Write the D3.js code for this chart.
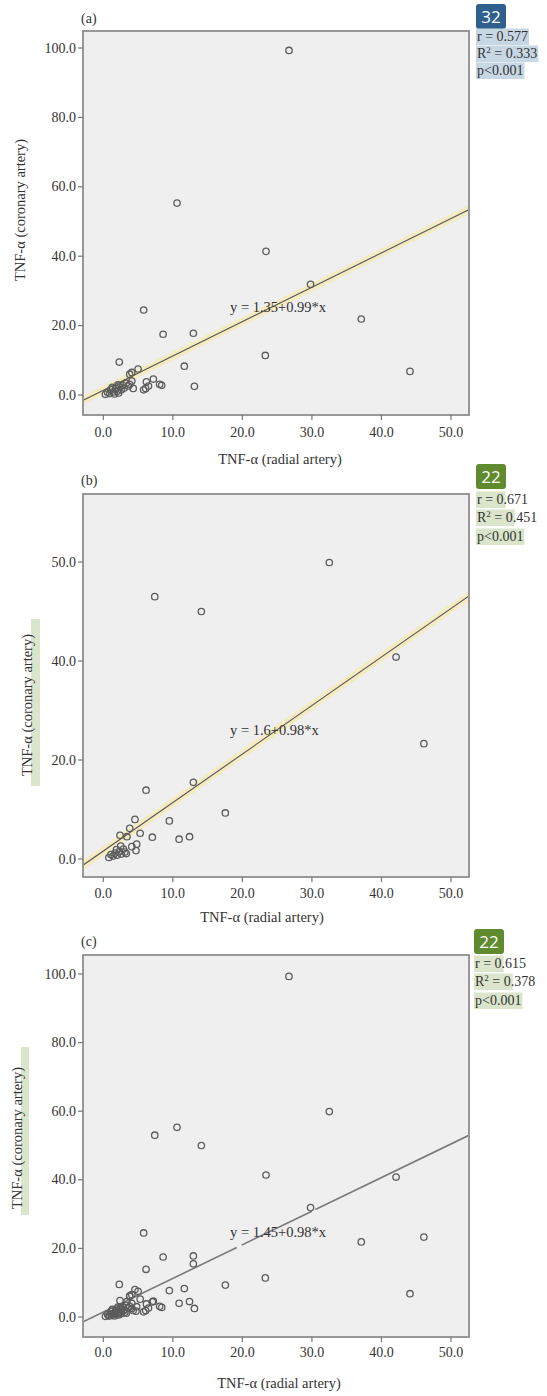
<!DOCTYPE html>
<html><head><meta charset="utf-8">
<script src="https://cdn.jsdelivr.net/npm/d3@7"></script>
<style>
body{margin:0;background:#fff}
svg{display:block}
text{font-family:"Liberation Serif","DejaVu Serif",serif;fill:#333}
</style>
</head><body>
<svg id="chart" width="547" height="1396"></svg>
<script>
// ---------- data ----------
const xTickValues = [0, 10, 20, 30, 40, 50];
const xTickLabels = ["0.0", "10.0", "20.0", "30.0", "40.0", "50.0"];
const yTickValuesA = [0, 20, 40, 60, 80, 100];
const yTickLabelsA = ["0.0", "20.0", "40.0", "60.0", "80.0", "100.0"];
const yTickValuesB = [0, 20, 40, 60];
const yTickLabelsB = ["0.0", "20.0", "40.0", "50.0"];
const yTickValuesC = [0, 20, 40, 60, 80, 100];
const yTickLabelsC = ["0.0", "20.0", "40.0", "60.0", "80.0", "100.0"];

const panelLetters = ["(a)", "(b)", "(c)"];
const badgeLabels = ["32", "22", "22"];
const rValues = ["0.577", "0.671", "0.615"];
const r2Values = ["0.333", "0.451", "0.378"];
const pLabels = ["p<0.001", "p<0.001", "p<0.001"];
const intercepts = [1.35, 1.6, 1.45];
const slopes = [0.99, 0.98, 0.98];
const equationLabels = ["y = 1.35+0.99*x", "y = 1.6+0.98*x", "y = 1.45+0.98*x"];
const xTitle = "TNF-\u03b1 (radial artery)";
const yTitle = "TNF-\u03b1 (coronary artery)";

// [radial, coronary]
const pointsA = [
  [26.7,99.3],[10.6,55.3],[23.4,41.4],[29.8,31.9],[5.8,24.5],[37.1,21.9],[8.6,17.5],
  [12.95,17.8],[23.3,11.4],[44.1,6.8],[2.3,9.5],[11.65,8.3],[13.1,2.5],
  [5.0,7.5],[4.1,6.5],[3.8,6.0],[4.1,4.0],[3.8,3.1],[6.2,3.8],[7.2,4.6],[8.1,3.1],
  [8.4,2.8],[6.1,1.9],[5.8,1.5],[4.3,1.9],[6.5,2.6],
  [0.3,0.2],[0.6,0.8],[0.9,0.4],[1.1,1.6],[1.4,0.9],[1.6,0.3],[1.8,1.9],[2.0,1.1],
  [2.2,0.6],[2.4,2.3],[2.6,1.5],[2.8,2.8],[3.0,2.0],[3.3,3.4],[3.6,2.6],[2.1,2.9],[1.3,2.2]
];
const pointsB = [
  [32.5,59.9],[7.4,53.0],[14.1,50.0],[42.1,40.8],[46.1,23.3],[12.95,15.5],[6.15,13.9],
  [17.55,9.3],[9.5,7.7],[12.4,4.5],[10.9,4.0],[7.05,4.4],[5.3,5.2],[4.55,8.0],[4.8,3.0],
  [4.1,2.5],[4.7,1.7],[3.3,1.1],[2.4,4.8],[3.8,6.2],[3.4,4.5],
  [0.8,0.3],[1.1,0.9],[1.4,0.6],[1.7,1.2],[2.0,0.8],[2.3,1.5],[2.6,1.0],[2.9,2.0],
  [3.1,1.4],[2.5,2.6],[1.9,1.9]
];
const pointsC = pointsA.concat(pointsB);
// fit line segments in (c) drawn with small breaks as in the source
const lineSegmentsC = [[-3, 19.2], [19.9, 30.0], [30.5, 53]];

// ---------- layout ----------
const panels = [
  {frame:[83,469,31,415], yDom:[0,100], yRange:[395,48], yTicks:yTickValuesA, yLabels:yTickLabelsA,
   points:pointsA, glow:true, letterY:23, badgeY:4, statY:[41,58,75], stX:477, fullHL:true,
   xLabY:437, xTitleX:280, xTitleY:464, yTitleX:20, yTitleY:210, eqY:312, yHL:null},
  {frame:[83,469,494,877], yDom:[0,60], yRange:[859,562], yTicks:yTickValuesB, yLabels:yTickLabelsB,
   points:pointsB, glow:true, letterY:485, badgeY:464, statY:[504,522,541], stX:477, fullHL:false,
   xLabY:898, xTitleX:262, xTitleY:922, yTitleX:27, yTitleY:705, eqY:735, yHL:[31,619,9,167]},
  {frame:[83,469,955,1337], yDom:[0,100], yRange:[1317,974], yTicks:yTickValuesC, yLabels:yTickLabelsC,
   points:pointsC, glow:false, letterY:946, badgeY:929, statY:[968,986,1005], stX:475, fullHL:false,
   xLabY:1357, xTitleX:279, xTitleY:1388, yTitleX:17, yTitleY:1138, eqY:1237, yHL:[21,1047,8,168]}
];

const svg = d3.select("#chart");
const x = d3.scaleLinear().domain([0, 50]).range([103.3, 451]);

panels.forEach((p, i) => {
  const [fx0, fx1, fy0, fy1] = p.frame;
  const y = d3.scaleLinear().domain(p.yDom).range(p.yRange);
  const g = svg.append("g");

  if (p.yHL) g.append("rect").attr("x", p.yHL[0]).attr("y", p.yHL[1]).attr("width", p.yHL[2])
     .attr("height", p.yHL[3]).attr("fill", "#dbe5cc");

  g.append("rect").attr("x", fx0).attr("y", fy0).attr("width", fx1 - fx0).attr("height", fy1 - fy0)
    .attr("fill", "#efefef").attr("stroke", "#8e8e8e").attr("stroke-width", 1.8);

  const clipId = "clip" + i;
  g.append("clipPath").attr("id", clipId).append("rect")
    .attr("x", fx0 + 1).attr("y", fy0 + 1).attr("width", fx1 - fx0 - 2).attr("height", fy1 - fy0 - 2);

  const yt = g.append("g");
  p.yTicks.forEach((v, k) => {
    yt.append("line").attr("x1", fx0 - 5).attr("x2", fx0).attr("y1", y(v)).attr("y2", y(v))
      .attr("stroke", "#777").attr("stroke-width", 1.2);
    yt.append("text").attr("x", fx0 - 7).attr("y", y(v) + 4.5).attr("text-anchor", "end")
      .attr("font-size", 14).text(p.yLabels[k]);
  });
  xTickValues.forEach((v, k) => {
    g.append("line").attr("x1", x(v)).attr("x2", x(v)).attr("y1", fy1).attr("y2", fy1 + 5)
      .attr("stroke", "#777").attr("stroke-width", 1.2);
    g.append("text").attr("x", x(v)).attr("y", p.xLabY).attr("text-anchor", "middle")
      .attr("font-size", 14).text(xTickLabels[k]);
  });

  g.append("text").attr("x", p.xTitleX).attr("y", p.xTitleY).attr("text-anchor", "middle")
    .attr("font-size", 14.5).text(xTitle);
  g.append("text").attr("transform", `translate(${p.yTitleX},${p.yTitleY}) rotate(-90)`)
    .attr("text-anchor", "middle").attr("dy", "0.35em").attr("font-size", 14.5).text(yTitle);
  g.append("text").attr("x", 81).attr("y", p.letterY).attr("font-size", 14).text(panelLetters[i]);

  const plot = g.append("g").attr("clip-path", `url(#${clipId})`);
  const fit = v => intercepts[i] + slopes[i] * v;
  if (p.glow) {
    const ends = [-4, 54];
    plot.append("line").attr("x1", x(ends[0])).attr("y1", y(fit(ends[0])))
      .attr("x2", x(ends[1])).attr("y2", y(fit(ends[1])))
      .attr("stroke", "#f4ebc2").attr("stroke-width", 8);
    plot.append("line").attr("x1", x(ends[0])).attr("y1", y(fit(ends[0])))
      .attr("x2", x(ends[1])).attr("y2", y(fit(ends[1])))
      .attr("stroke", "#555").attr("stroke-width", 1.1);
  } else {
    lineSegmentsC.forEach(s => {
      plot.append("line").attr("x1", x(s[0])).attr("y1", y(fit(s[0])))
        .attr("x2", x(s[1])).attr("y2", y(fit(s[1])))
        .attr("stroke", "#7a7a7a").attr("stroke-width", 1.6);
    });
  }

  plot.selectAll("circle.pt").data(p.points).join("circle").attr("class", "pt")
    .attr("cx", d => x(d[0])).attr("cy", d => y(d[1])).attr("r", 3.2)
    .attr("fill", "none").attr("stroke", "#5c5c5c").attr("stroke-width", 1.3);

  g.append("text").attr("x", 230).attr("y", p.eqY).attr("font-size", 14.5).text(equationLabels[i]);

  const badgeColor = i === 0 ? "#2f5f8c" : "#5f8b2e";
  const hlColor = i === 0 ? "#c8d7e4" : "#dae5cb";
  g.append("rect").attr("x", p.stX - 1).attr("y", p.badgeY).attr("width", 30).attr("height", 25)
    .attr("rx", 3).attr("fill", badgeColor);
  g.append("text").attr("x", p.stX + 14).attr("y", p.badgeY + 18.5).attr("text-anchor", "middle")
    .style("font-family", "'Open Sans','Noto Sans',sans-serif").style("fill", "#fff")
    .attr("font-size", 17).text(badgeLabels[i]);

  const hl = g.append("g");
  const t1 = g.append("text").attr("x", p.stX).attr("y", p.statY[0]).attr("font-size", 14)
    .text("r = " + rValues[i]);
  const t2 = g.append("text").attr("x", p.stX).attr("y", p.statY[1]).attr("font-size", 14);
  t2.append("tspan").text("R");
  t2.append("tspan").attr("font-size", 9).attr("dy", -5).text("2");
  t2.append("tspan").attr("dy", 5).text(" = " + r2Values[i]);
  const t3 = g.append("text").attr("x", p.stX).attr("y", p.statY[2]).attr("font-size", 14)
    .text(pLabels[i]);
  [[t1, 5], [t2, 6], [t3, null]].forEach(([t, n], k) => {
    const node = t.node();
    let w = node.getComputedTextLength();
    if (!p.fullHL && n !== null) w = node.getSubStringLength(0, n) + 1;
    hl.append("rect").attr("x", p.stX - 1).attr("y", p.statY[k] - 12.5)
      .attr("width", w + 2).attr("height", 16.5).attr("fill", hlColor);
  });
});
</script>
</body></html>
